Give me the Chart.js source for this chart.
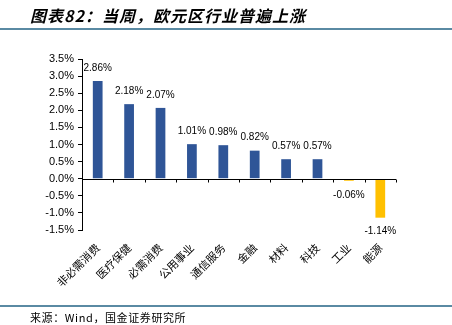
<!DOCTYPE html>
<html><head><meta charset="utf-8">
<script src="https://cdn.jsdelivr.net/npm/chart.js@4"></script>
<style>
html,body{margin:0;padding:0;background:#fff;}
#wrap{position:relative;width:452px;height:325px;overflow:hidden;}
#title{position:absolute;left:30px;top:3px;font:italic bold 16px "Noto Sans CJK SC",sans-serif;letter-spacing:1px;color:#000;white-space:nowrap;}
#line1{position:absolute;left:0;top:28px;width:452px;height:2px;background:#5A8AA3;}
#line2{position:absolute;left:0;top:305px;width:452px;height:2px;background:#5A8AA3;}
#src{position:absolute;left:30px;top:309px;font:11px "Noto Sans CJK SC",sans-serif;letter-spacing:0.6px;color:#000;white-space:nowrap;}
canvas{position:absolute;left:0;top:0;}
</style></head><body>
<div id="wrap">
<canvas id="c" width="452" height="325"></canvas>
<div id="title">图表82：当周，欧元区行业普遍上涨</div>
<div id="line1"></div>
<div id="line2"></div>
<div id="src">来源：Wind，国金证券研究所</div>
</div>
<script>
const categories = ['非必需消费','医疗保健','必需消费','公用事业','通信服务','金融','材料','科技','工业','能源'];
const values = [2.86, 2.18, 2.07, 1.01, 0.98, 0.82, 0.57, 0.57, -0.06, -1.14];
const barColors = ['#2F5597','#2F5597','#2F5597','#2F5597','#2F5597','#2F5597','#2F5597','#2F5597','#FFC000','#FFC000'];
const yMin = -1.5, yMax = 3.5, yStep = 0.5;

const zeroLine = {
  id:'zeroLine',
  afterDatasetsDraw(chart){
    const {ctx, chartArea, scales:{x,y}} = chart;
    const y0 = Math.round(y.getPixelForValue(0)) + 0.5;
    ctx.save();
    ctx.strokeStyle = '#000'; ctx.lineWidth = 1;
    ctx.beginPath(); ctx.moveTo(chartArea.left, y0); ctx.lineTo(chartArea.right, y0); ctx.stroke();
    const n = categories.length;
    const w = (chartArea.right - chartArea.left)/n;
    for(let i=1;i<=n;i++){
      const xx = Math.round(chartArea.left + w*i)+0.5;
      ctx.beginPath(); ctx.moveTo(xx, y0); ctx.lineTo(xx, y0+3); ctx.stroke();
    }
    ctx.fillStyle = '#000';
    ctx.font = '10px "Liberation Sans", sans-serif';
    ctx.textAlign = 'center'; ctx.textBaseline = 'middle';
    chart.getDatasetMeta(0).data.forEach((bar,i)=>{
      const v = values[i];
      const ty = v >= 0 ? bar.y - 13 : bar.y + 14;
      ctx.fillText(v.toFixed(2)+'%', bar.x, ty);
    });
    ctx.restore();
  }
};

new Chart(document.getElementById('c'), {
  type:'bar',
  data:{labels:categories, datasets:[{data:values, backgroundColor:barColors, barPercentage:0.31, categoryPercentage:1}]},
  options:{
    responsive:false, animation:false,
    layout:{padding:{left:0,right:56,top:59,bottom:0}},
    plugins:{legend:{display:false}, tooltip:{enabled:false}},
    scales:{
      x:{
        grid:{display:false},
        border:{display:false},
        ticks:{color:'#000', minRotation:45, maxRotation:45, font:{family:'"Noto Sans CJK SC"', size:11}, padding:3},
        afterFit(s){ s.height = 95; }
      },
      y:{
        min:yMin, max:yMax,
        ticks:{stepSize:yStep, color:'#000', font:{family:'"Liberation Sans"', size:11}, callback:v=>v.toFixed(1)+'%', padding:4},
        grid:{display:true, drawOnChartArea:false, drawTicks:true, tickLength:4, color:'#000'},
        border:{display:true, color:'#000'},
        afterFit(s){ s.width = 82; }
      }
    }
  },
  plugins:[zeroLine]
});
</script>
</body></html>
